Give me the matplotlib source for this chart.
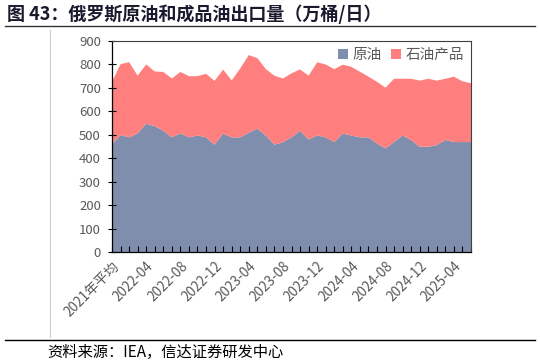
import matplotlib as mpl
mpl.use('Agg')
import matplotlib.pyplot as plt
import numpy as np

plt.rcParams['font.family'] = ['Noto Sans CJK SC', 'DejaVu Sans']

# categories: 2021 average, then monthly 2022-01 .. 2025-06
categories = ['2021年平均'] + ['%d-%02d' % (y, m) for y in range(2022, 2026)
                              for m in range(1, 13)][:42]

crude = [460, 499, 489, 506, 547, 537, 517, 489, 506, 489, 497, 489, 458,
         505, 489, 489, 509, 526, 497, 458, 468, 489, 517, 480, 497, 489,
         469, 505, 497, 489, 489, 463, 442, 469, 497, 478, 449, 449, 456,
         478, 469, 469, 469]
products = [266, 302, 321, 246, 253, 233, 251, 251, 262, 261, 253, 271, 272,
            273, 243, 294, 331, 301, 283, 294, 272, 273, 262, 272, 312, 311,
            311, 294, 293, 280, 259, 263, 259, 270, 242, 261, 282, 290, 275,
            261, 279, 259, 251]

c_crude = '#7F8EAC'
c_prod = '#FF7F7F'
grey = '#595959'

fig = plt.figure(figsize=(5.4, 3.64), dpi=100)
W, H = 540, 364
ax = fig.add_axes([112 / W, 1 - 252 / H, (471 - 112) / W, (252 - 41) / H])

x = np.arange(len(categories))
ax.stackplot(x, crude, products, colors=[c_crude, c_prod],
             labels=['原油', '石油产品'], linewidth=0)

ax.set_xlim(0, len(categories) - 1)
ax.set_ylim(0, 900)
ax.set_yticks(range(0, 901, 100))
ax.set_xticks(x, minor=True)
ax.set_xticks(x[::4])
ax.set_xticklabels(categories[::4], rotation=45, ha='right',
                   rotation_mode='anchor')
ax.tick_params(axis='x', which='both', direction='in', length=4,
               width=0.8, colors='black', labelcolor=grey, labelsize=9.8,
               pad=5)
ax.tick_params(axis='y', direction='inout', length=6, width=0.8,
               colors='black', labelcolor=grey, labelsize=9.5, pad=5)
for s in ['top', 'right']:
    ax.spines[s].set_color('#404040')
    ax.spines[s].set_linewidth(0.8)
for s in ['left', 'bottom']:
    ax.spines[s].set_color('black')
    ax.spines[s].set_linewidth(0.9)

leg = ax.legend(loc='upper right', ncol=2, frameon=False, fontsize=10.5,
                handlelength=0.7, handleheight=0.7, handletextpad=0.3,
                columnspacing=0.6, borderaxespad=0.1)
for t in leg.get_texts():
    t.set_color(grey)

# title, frame lines and source
fig.text(7 / W, 1 - 14 / H, '图 43：俄罗斯原油和成品油出口量（万桶/日）',
         fontsize=13, fontweight='bold', color='#1a1a2e', va='center')
fig.add_artist(plt.Line2D([5 / W, 535 / W], [1 - 26 / H, 1 - 26 / H],
                          color='#333333', linewidth=1))
fig.add_artist(plt.Line2D([50 / W, 50 / W], [1 - 30 / H, 1 - 337 / H],
                          color='#cccccc', linewidth=0.8))
fig.add_artist(plt.Line2D([5 / W, 535 / W], [1 - 339.5 / H, 1 - 339.5 / H],
                          color='black', linewidth=1))
fig.text(47 / W, 1 - 352 / H, '资料来源：IEA，信达证券研发中心',
         fontsize=11, color='black', va='center')

fig.savefig('out.png', dpi=100)
